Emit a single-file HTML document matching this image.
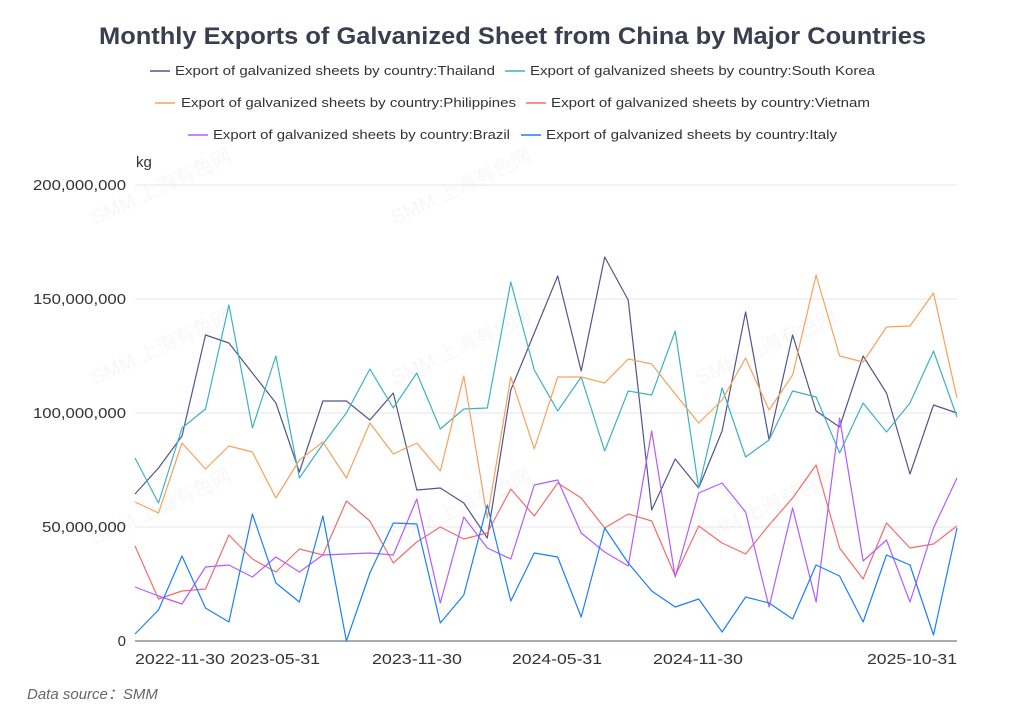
<!DOCTYPE html>
<html><head><meta charset="utf-8"><style>
body{margin:0;background:#fff;}
svg{display:block;font-family:"Liberation Sans","Noto Sans CJK SC",sans-serif;}
</style></head><body>
<svg width="1024" height="722" viewBox="0 0 1024 722" xmlns="http://www.w3.org/2000/svg">
<text x="99" y="44" textLength="827" lengthAdjust="spacingAndGlyphs" font-size="24" font-weight="bold" fill="#3a3f4f">Monthly Exports of Galvanized Sheet from China by Major Countries</text>
<g font-size="13" fill="#333">
<line x1="150" y1="71" x2="170" y2="71" stroke="#51568c" stroke-width="1.5"/><text x="175" y="75" textLength="320" lengthAdjust="spacingAndGlyphs">Export of galvanized sheets by country:Thailand</text>
<line x1="505" y1="71" x2="525" y2="71" stroke="#3fb1c3" stroke-width="1.5"/><text x="530" y="75" textLength="345" lengthAdjust="spacingAndGlyphs">Export of galvanized sheets by country:South Korea</text>
<line x1="155" y1="103" x2="175" y2="103" stroke="#f4a35a" stroke-width="1.5"/><text x="181" y="107" textLength="335" lengthAdjust="spacingAndGlyphs">Export of galvanized sheets by country:Philippines</text>
<line x1="526" y1="103" x2="546" y2="103" stroke="#f56c6c" stroke-width="1.5"/><text x="551" y="107" textLength="319" lengthAdjust="spacingAndGlyphs">Export of galvanized sheets by country:Vietnam</text>
<line x1="188" y1="135" x2="208" y2="135" stroke="#b35cff" stroke-width="1.5"/><text x="213" y="139" textLength="297" lengthAdjust="spacingAndGlyphs">Export of galvanized sheets by country:Brazil</text>
<line x1="521" y1="135" x2="541" y2="135" stroke="#1a7fff" stroke-width="1.5"/><text x="546" y="139" textLength="291" lengthAdjust="spacingAndGlyphs">Export of galvanized sheets by country:Italy</text>
</g>
<g font-size="20" fill="#000" fill-opacity="0.03">
<text transform="translate(95,225) rotate(-25)">SMM 上海有色网</text>
<text transform="translate(395,225) rotate(-25)">SMM 上海有色网</text>
<text transform="translate(95,385) rotate(-25)">SMM 上海有色网</text>
<text transform="translate(395,385) rotate(-25)">SMM 上海有色网</text>
<text transform="translate(95,545) rotate(-25)">SMM 上海有色网</text>
<text transform="translate(395,545) rotate(-25)">SMM 上海有色网</text>
<text transform="translate(700,385) rotate(-25)">SMM 上海有色网</text>
<text transform="translate(700,545) rotate(-25)">SMM 上海有色网</text>
</g>
<text x="136" y="167" font-size="15" fill="#333">kg</text>
<g stroke="#e6e6e6" stroke-width="1">
<line x1="135" y1="185" x2="957" y2="185"/><line x1="135" y1="299" x2="957" y2="299"/>
<line x1="135" y1="413" x2="957" y2="413"/><line x1="135" y1="527" x2="957" y2="527"/>
</g>
<line x1="135" y1="641" x2="957" y2="641" stroke="#8a8f99" stroke-width="1.5"/>
<g font-size="15" fill="#333" text-anchor="end">
<text x="126" y="190" textLength="93" lengthAdjust="spacingAndGlyphs">200,000,000</text><text x="126" y="304" textLength="93" lengthAdjust="spacingAndGlyphs">150,000,000</text>
<text x="126" y="418" textLength="93" lengthAdjust="spacingAndGlyphs">100,000,000</text><text x="126" y="532" textLength="84" lengthAdjust="spacingAndGlyphs">50,000,000</text><text x="126" y="646">0</text>
</g>
<g font-size="15" fill="#333" text-anchor="middle">
<text x="180" y="664" textLength="90" lengthAdjust="spacingAndGlyphs">2022-11-30</text><text x="275" y="664" textLength="90" lengthAdjust="spacingAndGlyphs">2023-05-31</text>
<text x="417" y="664" textLength="90" lengthAdjust="spacingAndGlyphs">2023-11-30</text><text x="557" y="664" textLength="90" lengthAdjust="spacingAndGlyphs">2024-05-31</text>
<text x="698" y="664" textLength="90" lengthAdjust="spacingAndGlyphs">2024-11-30</text><text x="912" y="664" textLength="90" lengthAdjust="spacingAndGlyphs">2025-10-31</text>
</g>
<text x="27" y="699" font-size="15" font-style="italic" fill="#666">Data source：SMM</text>
<g fill="none" stroke-width="1.2" stroke-linejoin="round" id="series"></g>
</svg>
<script>
const S=[
["#51568c",[494,468,436,335,343,373,403,472,401,401,420,393,490,488,503,538,390,333,276,371,257,300,510,459,488,431,312,440,335,411,427,356,393,474,405,413]],
["#3fb1c3",[458,503,428,409,305,428,356,478,444,413,369,408,373,429,409,408,282,370,411,377,451,391,395,331,488,388,457,440,391,397,453,403,432,403,351,417]],
["#f4a35a",[502,513,443,469,446,452,498,460,442,478,423,454,443,471,376,518,377,449,377,377,383,359,364,394,423,400,358,410,375,275,356,362,327,326,293,398]],
["#f56c6c",[546,599,591,589,535,559,572,549,555,501,521,563,542,527,539,533,489,516,483,498,528,514,521,576,526,543,554,525,498,465,548,579,523,548,544,526]],
["#b35cff",[587,596,604,567,565,577,557,572,555,554,553,555,499,603,517,548,559,485,480,533,552,566,431,577,493,483,512,607,508,602,418,561,540,602,528,478]],
["#1a7fff",[634,610,556,608,622,514,583,602,516,641,573,523,524,623,595,505,601,553,557,617,528,563,591,607,599,632,597,603,619,565,576,622,555,565,635,528]]];
const g=document.getElementById('series');
S.forEach(([c,ys])=>{const p=document.createElementNS('http://www.w3.org/2000/svg','polyline');
p.setAttribute('points',ys.map((y,i)=>(135+i*822/35).toFixed(1)+','+y).join(' '));
p.setAttribute('stroke',c);g.appendChild(p);});
</script>
</body></html>
